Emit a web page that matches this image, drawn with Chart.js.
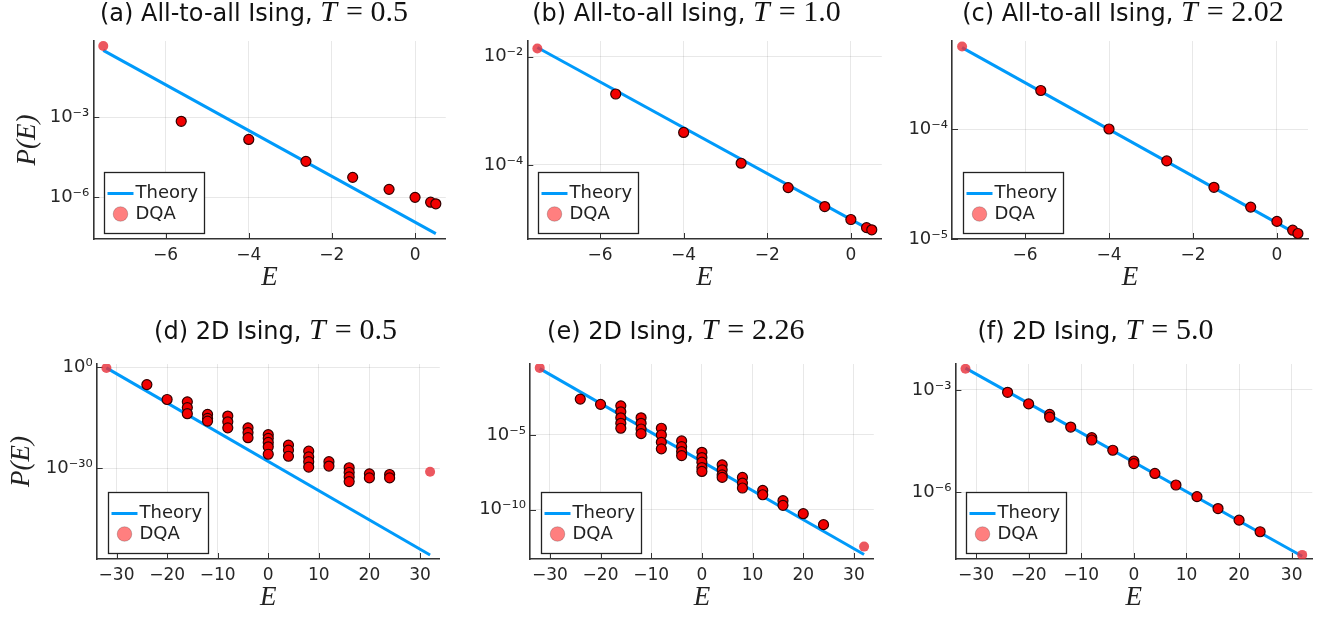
<!DOCTYPE html>
<html>
<head>
<meta charset="utf-8">
<script src="https://cdn.jsdelivr.net/npm/chart.js@4.4.1/dist/chart.umd.min.js"></script>
<style>
  body { margin: 0; background: #fff; }
  #wrap { position: relative; width: 1334px; height: 620px; overflow: hidden; }
  #wrap canvas { position: absolute; }
</style>
</head>
<body>
<div id="wrap"></div>
<script>
// energy levels (all-to-all Ising, N = 16) and 2D Ising 4x4
const E_all = [-7.5, -5.625, -4, -2.625, -1.5, -0.625, 0, 0.375, 0.5];
const E_2d = [-32, -24, -20, -16, -12, -8, -4, 0, 4, 8, 12, 16, 20, 24, 32];

// tick positions (E) and decades (log10 P)
const xTicks_all = [-6, -4, -2, 0];
const xTicks_2d = [-30, -20, -10, 0, 10, 20, 30];
const yTicks_a = [-3, -6];
const yTicks_b = [-2, -4];
const yTicks_c = [-4, -5];
const yTicks_d = [0, -30];
const yTicks_e = [-5, -10];
const yTicks_f = [-3, -6];

// log10 P(E). theory = value at lowest / highest E
const theory_a = [-0.5, -7.37];
const dqa_a = [-0.34, -3.16, -3.84, -4.66, -5.26, -5.71, -6.01, -6.19, -6.25];

const theory_b = [-1.83, -5.22];
const dqa_b = [-1.85, -2.69, -3.40, -3.97, -4.42, -4.77, -5.01, -5.16, -5.20];

const theory_c = [-3.26, -4.96];
const dqa_c = [-3.25, -3.65, -4.0, -4.29, -4.53, -4.71, -4.84, -4.92, -4.95];

// 2D: several runs per energy
const theory_d = [-0.25, -55.6];
const dqa_d = [
  [-0.3], [-5.2], [-9.6],
  [-10.3, -12.0, -13.8],
  [-14.0, -15.2, -16.0],
  [-14.5, -16.2, -18.0],
  [-18.0, -19.4, -20.9],
  [-20.0, -21.1, -22.3, -23.6, -25.8],
  [-23.1, -24.6, -26.4],
  [-24.9, -26.6, -28.0, -29.6],
  [-28.0, -29.3],
  [-29.8, -31.2, -32.5, -33.9],
  [-31.6, -32.8],
  [-31.8, -32.8],
  [-31.0]
];

const theory_e = [-0.56, -13.0];
const dqa_e = [
  [-0.51], [-2.6], [-2.95],
  [-3.05, -3.45, -3.85, -4.22, -4.55],
  [-3.85, -4.22, -4.6, -4.91],
  [-4.55, -5.0, -5.49, -5.93],
  [-5.4, -5.78, -6.11, -6.38],
  [-6.16, -6.51, -6.82, -7.18, -7.44],
  [-7.0, -7.33, -7.67, -7.84],
  [-7.84, -8.22, -8.55],
  [-8.71, -9.0],
  [-9.4, -9.71],
  [-10.27],
  [-11.0],
  [-12.47]
];

const theory_f = [-2.36, -7.88];
const dqa_f = [
  [-2.38], [-3.07], [-3.41], [-3.72, -3.8], [-4.09], [-4.40, -4.47], [-4.77],
  [-5.09, -5.16], [-5.45], [-5.79], [-6.13], [-6.48], [-6.82], [-7.16], [-7.84]
];

const panels = [
  { tag: '(a) All-to-all Ising, ', T: '0.5', E: E_all, theory: theory_a, dqa: dqa_a,
    xTicks: xTicks_all, yTicks: yTicks_a, xlim: [-7.74, 0.74], ylim: [-7.57, -0.15], light: [-7.5],
    box: [0, 0, 452, 300], yw: 93.3, padR: 1.7, padT: 41, titleX: 254, titleY: 20.7, ylab: 11.8 },
  { tag: '(b) All-to-all Ising, ', T: '1.0', E: E_all, theory: theory_b, dqa: dqa_b,
    xTicks: xTicks_all, yTicks: yTicks_b, xlim: [-7.74, 0.74], ylim: [-5.37, -1.71], light: [-7.5],
    box: [452, 0, 436, 300], yw: 75.3, padR: 4.7, padT: 41, titleX: 686.5, titleY: 20.7 },
  { tag: '(c) All-to-all Ising, ', T: '2.02', E: E_all, theory: theory_c, dqa: dqa_c,
    xTicks: xTicks_all, yTicks: yTicks_c, xlim: [-7.74, 0.74], ylim: [-5.0, -3.2], light: [-7.5],
    box: [888, 0, 446, 300], yw: 64, padR: 26, padT: 41, titleX: 1123, titleY: 20.7 },
  { tag: '(d) 2D Ising, ', T: '0.5', E: E_2d, theory: theory_d, dqa: dqa_d,
    xTicks: xTicks_2d, yTicks: yTicks_d, xlim: [-33.92, 33.92], ylim: [-56.8, 0.9], light: [-32, 32],
    box: [0, 300, 446, 320], yw: 96.7, padR: 2.6, padT: 64, titleX: 275.5, titleY: 39.3, ylab: 5.5 },
  { tag: '(e) 2D Ising, ', T: '2.26', E: E_2d, theory: theory_e, dqa: dqa_e,
    xTicks: xTicks_2d, yTicks: yTicks_e, xlim: [-33.92, 33.92], ylim: [-13.3, -0.25], light: [-32, 32],
    box: [446, 300, 434, 320], yw: 84, padR: 3.3, padT: 64, titleX: 675.8, titleY: 39.3 },
  { tag: '(f) 2D Ising, ', T: '5.0', E: E_2d, theory: theory_f, dqa: dqa_f,
    xTicks: xTicks_2d, yTicks: yTicks_f, xlim: [-33.92, 33.92], ylim: [-7.96, -2.24], light: [-32, 32],
    box: [880, 300, 454, 320], yw: 75.4, padR: 21.7, padT: 64, titleX: 1095.5, titleY: 39.3 }
];

const SUP = { '-': '\u207b', '0': '\u2070', '1': '\u00b9', '2': '\u00b2', '3': '\u00b3', '4': '\u2074',
              '5': '\u2075', '6': '\u2076', '7': '\u2077', '8': '\u2078', '9': '\u2079' };
const sup = n => String(n).split('').map(c => SUP[c]).join('');

function points(E, vals) {
  const out = [];
  E.forEach((e, i) => {
    [].concat(vals[i]).forEach(v => out.push({ x: e, y: 10 ** v }));
  });
  return out;
}

// inward ticks, legend box and the mixed-font title
function decor(p) {
  return {
    id: 'decor',
    beforeDatasetsDraw(chart) {
      const { ctx, chartArea: a, scales: { x, y } } = chart;
      ctx.save();
      ctx.strokeStyle = '#333';
      ctx.lineWidth = 1;
      ctx.beginPath();
      x.ticks.forEach(t => {
        const px = Math.round(x.getPixelForValue(t.value)) + 0.5;
        ctx.moveTo(px, a.bottom);
        ctx.lineTo(px, a.bottom - 6);
      });
      y.ticks.forEach(t => {
        const py = Math.round(y.getPixelForValue(t.value)) + 0.5;
        ctx.moveTo(a.left, py);
        ctx.lineTo(a.left + 6, py);
      });
      ctx.stroke();
      ctx.restore();
    },
    afterDraw(chart) {
      const { ctx, chartArea: a } = chart;
      ctx.save();
      // legend
      const bw = 100, bh = 61;
      const bx = Math.round(a.left + 11) + 0.5, by = Math.round(a.bottom - 6 - bh) + 0.5;
      ctx.fillStyle = '#fff';
      ctx.fillRect(bx, by, bw, bh);
      ctx.strokeStyle = '#222';
      ctx.lineWidth = 1.3;
      ctx.strokeRect(bx, by, bw, bh);
      ctx.strokeStyle = '#009afa';
      ctx.lineWidth = 3;
      ctx.beginPath();
      ctx.moveTo(bx + 3, by + 21);
      ctx.lineTo(bx + 29, by + 21);
      ctx.stroke();
      ctx.beginPath();
      ctx.arc(bx + 16, by + 41.5, 7.3, 0, Math.PI * 2);
      ctx.fillStyle = 'rgba(255,0,0,0.5)';
      ctx.fill();
      ctx.strokeStyle = 'rgba(0,0,0,0.2)';
      ctx.lineWidth = 1;
      ctx.stroke();
      ctx.fillStyle = '#222';
      ctx.font = '18px "DejaVu Sans"';
      ctx.textBaseline = 'middle';
      ctx.fillText('Theory', bx + 31, by + 21);
      ctx.fillText('DQA', bx + 31, by + 42);

      // title: sans label + math "T = value"
      const em = 30;
      const fSans = '24px "DejaVu Sans"';
      const fIt = 'italic ' + em + 'px "Liberation Serif"';
      const fUp = em + 'px "Liberation Serif"';
      ctx.textBaseline = 'alphabetic';
      ctx.font = fSans; const w1 = ctx.measureText(p.tag).width;
      ctx.font = fIt; const wT = ctx.measureText('T').width;
      ctx.font = fUp; const wEq = ctx.measureText('=').width; const wV = ctx.measureText(p.T).width;
      const gap1 = 0.3 * em, gap2 = 0.26 * em;
      const total = w1 + wT + gap1 + wEq + gap2 + wV;
      let tx = p.titleX - p.box[0] - total / 2;
      const ty = p.titleY;
      ctx.fillStyle = '#111';
      ctx.font = fSans; ctx.fillText(p.tag, tx, ty); tx += w1;
      ctx.font = fIt; ctx.fillText('T', tx, ty); tx += wT + gap1;
      ctx.font = fUp; ctx.fillText('=', tx, ty); tx += wEq + gap2;
      ctx.fillText(p.T, tx, ty);
      ctx.restore();
    }
  };
}

const wrap = document.getElementById('wrap');

panels.forEach(p => {
  const cv = document.createElement('canvas');
  cv.width = p.box[2];
  cv.height = p.box[3];
  cv.style.left = p.box[0] + 'px';
  cv.style.top = p.box[1] + 'px';
  wrap.appendChild(cv);

  const isLight = ctx => ctx.raw && p.light.includes(ctx.raw.x);

  new Chart(cv.getContext('2d'), {
    type: 'scatter',
    data: {
      datasets: [
        {
          label: 'DQA',
          order: 0,
          data: points(p.E, p.dqa),
          pointRadius: 5,
          pointBorderWidth: 1.2,
          backgroundColor: ctx => isLight(ctx) ? 'rgba(232,50,60,0.82)' : '#f20000',
          borderColor: ctx => isLight(ctx) ? 'rgba(232,50,60,0.0)' : '#300000'
        },
        {
          label: 'Theory',
          order: 1,
          data: [
            { x: p.E[0], y: 10 ** p.theory[0] },
            { x: p.E[p.E.length - 1], y: 10 ** p.theory[1] }
          ],
          showLine: true,
          pointRadius: 0,
          borderColor: '#009afa',
          borderWidth: 3
        }
      ]
    },
    options: {
      responsive: false,
      animation: false,
      events: [],
      layout: { padding: { left: 0, right: p.padR, top: p.padT, bottom: 0 } },
      plugins: {
        legend: { display: false },
        tooltip: { enabled: false },
        title: { display: false }
      },
      scales: {
        x: {
          type: 'linear',
          min: p.xlim[0],
          max: p.xlim[1],
          afterBuildTicks: s => { s.ticks = p.xTicks.map(v => ({ value: v })); },
          afterFit: s => { s.height = 61; },
          grid: { color: 'rgba(0,0,0,0.09)', drawTicks: false },
          border: { color: '#333', width: 1.6 },
          ticks: {
            padding: 6,
            color: '#262626',
            font: { family: 'DejaVu Sans', size: 17 },
            callback: v => String(v).replace('-', '\u2212')
          },
          title: {
            display: true,
            text: 'E',
            color: '#222',
            padding: { top: 0, bottom: 6 },
            font: { family: 'Liberation Serif', style: 'italic', size: 27 }
          }
        },
        y: {
          type: 'logarithmic',
          min: 10 ** p.ylim[0],
          max: 10 ** p.ylim[1],
          afterBuildTicks: s => { s.ticks = p.yTicks.map(v => ({ value: 10 ** v })); },
          afterFit: s => { s.width = p.yw; },
          grid: { color: 'rgba(0,0,0,0.09)', drawTicks: false },
          border: { color: '#333', width: 1.6 },
          ticks: {
            padding: 4,
            color: '#262626',
            font: { family: 'DejaVu Sans', size: 18 },
            callback: v => '10' + sup(Math.round(Math.log10(v)))
          },
          title: {
            display: p.ylab !== undefined,
            text: 'P(E)',
            color: '#222',
            padding: { top: p.ylab || 0, bottom: 0 },
            font: { family: 'Liberation Serif', style: 'italic', size: 27 }
          }
        }
      }
    },
    plugins: [decor(p)]
  });
});
</script>
</body>
</html>
